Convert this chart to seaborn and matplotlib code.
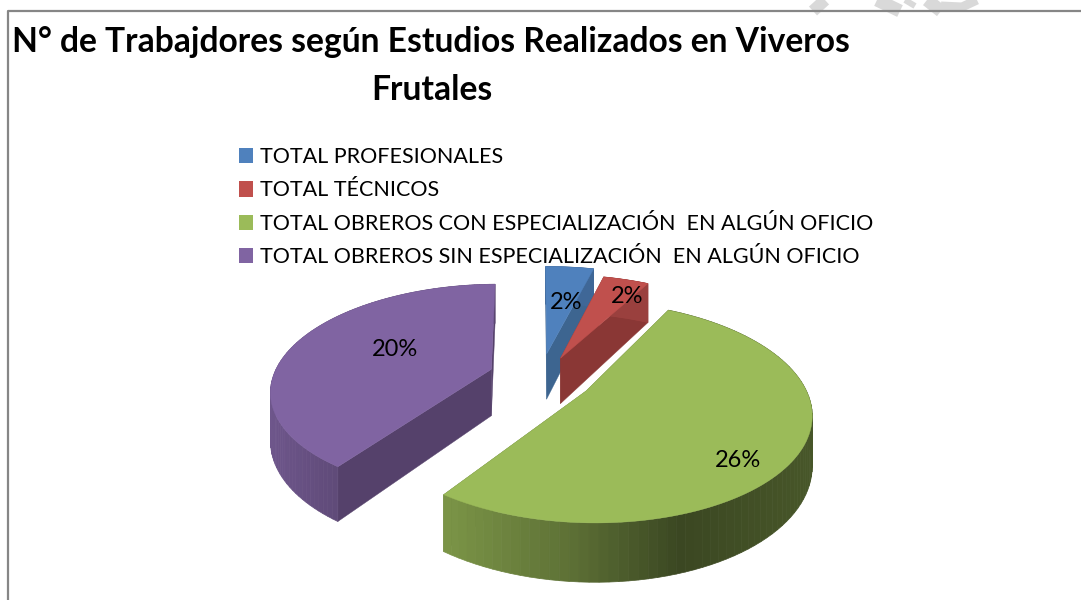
import numpy as np
import matplotlib
matplotlib.use("Agg")
import matplotlib.pyplot as plt
from matplotlib.patches import Patch
import seaborn as sns

title_text = "N° de Trabajdores según Estudios Realizados en Viveros\nFrutales"
categories = ["TOTAL PROFESIONALES", "TOTAL TÉCNICOS",
              "TOTAL OBREROS CON ESPECIALIZACIÓN  EN ALGÚN OFICIO",
              "TOTAL OBREROS SIN ESPECIALIZACIÓN  EN ALGÚN OFICIO"]
values = [2, 2, 26, 20]
value_labels = ["2%", "2%", "26%", "20%"]

colors = ["#4f81bd", "#c0504d", "#9bbb59", "#8064a2"]
cut_colors = ["#3d6590", "#8a3735", "#5f7436", "#55416b"]
explode = [0.2, 0.2, 0.2, 0.2]
scale = [1.03, 0.97, 0.93, 0.94]
turn = [0, 0, 1, 1]
shift_px = [(6, 0), (9, 3), (11, 4), (0, 1)]
label_frac = [0.62, 0.85, 0.70, 0.55]
label_nudge = [(5, 4), (8, 8), (-4, 24), (19, -3)]
wall_x = [[500, 650], [500, 650], [443, 560, 680, 808], [270, 340, 490]]
wall_f = [[.8, .8], [.8, .8], [.80, .62, .38, .46], [.86, .74, .7]]

sns.set_theme(style="white")
plt.rcParams["font.family"] = ["Lato", "DejaVu Sans"]

CX, CY, RX, RY, K, DEPTH = 535.0, 375.0, 232.0, 110.0, 0.2, 47.0


def project(x, y, z=0.0):
    s = 1.0 / (1.0 + K * np.asarray(y, float))
    return CX + RX * np.asarray(x, float) * s, CY - RY * np.asarray(y, float) * s + DEPTH * z * s


fig = plt.figure(figsize=(10.81, 6.0), dpi=100)
helper = fig.add_axes([0, 0, 0.01, 0.01])
wedges, _ = helper.pie(values, explode=explode, startangle=90, counterclock=False)
helper.set_visible(False)

ax = fig.add_axes([0, 0, 1, 1])
ax.set_xlim(0, 1081)
ax.set_ylim(600, 0)
ax.axis("off")

# faint watermark remains above the frame, chart frame
for seg, w in [(((813, 11), (825, 0)), 12), (((877, 0), (900, 11)), 13),
               (((905, 0), (915, 6)), 6), (((927, 0), (941, 11)), 13),
               (((941, 6), (962, 7), (977, 0)), 9)]:
    ax.plot(*zip(*seg), color="#d9d9d9", lw=w * 0.72, solid_capstyle="butt", zorder=0)
ax.plot([8, 8, 1081], [600, 11, 11], color="#868686", lw=1.6, zorder=1)


def shade(color, f):
    r = np.array(matplotlib.colors.to_rgb(color)) * f
    return tuple(np.clip(r, 0, 1))


order = [3, 0, 1, 2]
for i in order:
    w = wedges[i]
    cx_, cy_ = w.center
    dx, dy = shift_px[i]
    z0 = 3 + order.index(i) * 0.1
    th = np.radians(np.linspace(w.theta1, w.theta2, 90) + turn[i])
    xs = cx_ + scale[i] * np.cos(th)
    ys = cy_ + scale[i] * np.sin(th)
    X0, Y0 = project(cx_, cy_)
    X3, Y3 = project(cx_, cy_, 1)
    # radial cut walls
    for xe, ye in [(xs[0], ys[0]), (xs[-1], ys[-1])]:
        X1, Y1 = project(xe, ye)
        X2, Y2 = project(xe, ye, 1)
        ax.fill(np.array([X0, X1, X2, X3]) + dx, np.array([Y0, Y1, Y2, Y3]) + dy,
                color=cut_colors[i], lw=0.3, zorder=z0)
    # outer curved wall with a shaded gradient
    Xt, Yt = project(xs, ys)
    Xb, Yb = project(xs, ys, 1)
    Xt, Yt, Xb, Yb = Xt + dx, Yt + dy, Xb + dx, Yb + dy
    for j in range(len(xs) - 1):
        f = np.interp((Xt[j] + Xt[j + 1]) / 2, wall_x[i], wall_f[i])
        ax.fill([Xt[j], Xt[j + 1], Xb[j + 1], Xb[j]], [Yt[j], Yt[j + 1], Yb[j + 1], Yb[j]],
                color=shade(colors[i], f), lw=0.5, zorder=z0)
    # top face
    ax.fill(np.r_[X0 + dx, Xt], np.r_[Y0 + dy, Yt], color=colors[i], lw=0.3, zorder=z0 + 0.05)
    mid = np.radians((w.theta1 + w.theta2) / 2 + turn[i])
    Xl, Yl = project(cx_ + label_frac[i] * np.cos(mid), cy_ + label_frac[i] * np.sin(mid))
    ax.text(Xl + dx + label_nudge[i][0], Yl + dy + label_nudge[i][1], value_labels[i],
            ha="center", va="center", fontsize=17, color="#000000", zorder=6)

ax.text(12, 52, title_text.split("\n")[0], fontsize=24.2, fontweight="bold", ha="left", va="baseline", color="#000000")
ax.text(432, 100, title_text.split("\n")[1], fontsize=24.2, fontweight="bold", ha="center", va="baseline", color="#000000")

handles = [Patch(facecolor=c, edgecolor="none") for c in colors]
leg = ax.legend(handles, categories, loc="upper left", bbox_to_anchor=(237 / 1081, 1 - 145 / 600),
                bbox_transform=fig.transFigure, frameon=False, fontsize=15.45, labelspacing=0.62,
                handlelength=0.66, handleheight=0.72, handletextpad=0.3, borderpad=0.1, borderaxespad=0)
for t in leg.get_texts():
    t.set_color("#000000")

fig.savefig("out.png", dpi=100, facecolor="white")
